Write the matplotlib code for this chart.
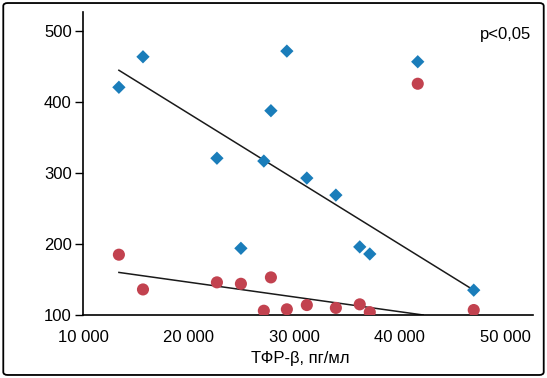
import matplotlib.pyplot as plt
from matplotlib.patches import FancyBboxPatch
from matplotlib.ticker import FuncFormatter
from matplotlib import font_manager

# font: narrow sans if available
names = {f.name for f in font_manager.fontManager.ttflist}
fam = 'Liberation Sans Narrow' if 'Liberation Sans Narrow' in names else 'Liberation Sans'
plt.rcParams['font.family'] = [fam, 'DejaVu Sans']
fs = 13 if fam == 'Liberation Sans Narrow' else 12

# Data
tgf = [13400, 15680, 22680, 24950, 27120, 27790, 29300, 31190, 33940, 36200, 37150, 41690, 46990]
blue_y = [421, 464, 321, 194, 317, 388, 472, 293, 269, 196, 186, 457, 135]
red_y = [185, 136, 146, 144, 106, 153, 108, 114, 110, 115, 104, 426, 107]

# trend lines (end points)
blue_line_x = [13400, 46990]
blue_line_y = [445, 135]
red_line_x = [13400, 42200]
red_line_y = [160, 100]

blue = '#1a7dba'
red = '#c2424f'

fig = plt.figure(figsize=(5.47, 3.78), dpi=100)
ax = fig.add_axes([0.1517, 0.1667, 0.8227, 0.8013])

ax.plot(blue_line_x, blue_line_y, color='#1a1a1a', lw=1.1, zorder=2)
ax.plot(red_line_x, red_line_y, color='#1a1a1a', lw=1.1, zorder=2)
ax.scatter(tgf, blue_y, marker='D', s=46, color=blue, edgecolors='none', zorder=3)
ax.scatter(tgf, red_y, marker='o', s=76, color=red, edgecolors='none', zorder=3)

ax.set_xlim(10000, 52600)
ax.set_ylim(100, 527)
ax.set_xticks([10000, 20000, 30000, 40000, 50000])
ax.set_yticks([100, 200, 300, 400, 500])
ax.xaxis.set_major_formatter(FuncFormatter(lambda v, p: f'{int(v):,}'.replace(',', ' ')))
ax.tick_params(axis='x', length=0, pad=11, labelsize=fs)
ax.tick_params(axis='y', length=6, width=1, pad=2, labelsize=fs)

for s in ['top', 'right']:
    ax.spines[s].set_visible(False)
for s in ['left', 'bottom']:
    ax.spines[s].set_linewidth(1.2)
ax.spines['left'].set_bounds(100, 527)
ax.set_xlabel('ТФР-β, пг/мл', fontsize=fs, labelpad=0)
ax.xaxis.set_label_coords(0.482, -0.118)

ax.text(0.995, 0.925, 'p<0,05', transform=ax.transAxes, ha='right', va='center', fontsize=fs)

# rounded frame round the whole figure
frame = FancyBboxPatch((0.006, 0.008), 0.988, 0.984, boxstyle='round,pad=0,rounding_size=0.008',
                       transform=fig.transFigure, fill=False, edgecolor='black', lw=1.3)
fig.patches.append(frame)

fig.savefig('out.png', dpi=100)
